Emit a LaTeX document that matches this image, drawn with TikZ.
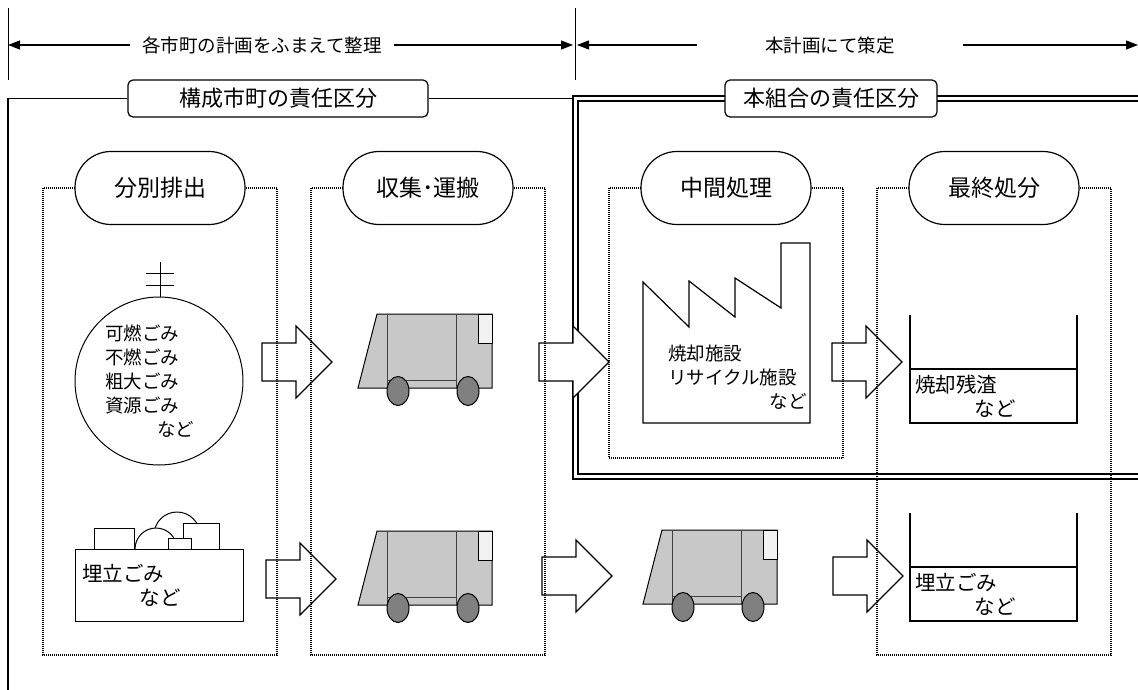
\documentclass[tikz,border=0pt]{standalone}
\usepackage{fontspec}
\setmainfont{Noto Sans CJK JP}
\usetikzlibrary{arrows.meta}

\definecolor{truckbody}{RGB}{200,200,200}
\definecolor{truckwin}{RGB}{242,242,242}
\definecolor{cargo}{RGB}{64,64,64}
\definecolor{wheel}{RGB}{128,128,128}

\tikzset{
  frame/.style={line width=1.2pt},
  colbox/.style={dash pattern=on 1pt off 1pt, line width=1.1pt},
  title/.style={draw, fill=white, rounded corners=5pt, line width=1.2pt,
    minimum height=37pt, inner sep=0pt, font=\fontsize{22}{26}\selectfont},
  pill/.style={draw, fill=white, rounded corners=36pt, line width=1.2pt,
    minimum width=170pt, minimum height=73pt, font=\fontsize{23}{26}\selectfont},
  small/.style={inner sep=0pt, align=left, font=\fontsize{18.5}{24}\selectfont},
  mid/.style={inner sep=0pt, align=left, font=\fontsize{20.5}{24}\selectfont},
  dim/.style={line width=1.2pt, -{Triangle[length=12pt,width=9pt]}},
  fatarrow/.pic={
    \draw[fill=white, line width=1.2pt] (0,-19) -- (34,-19) -- (34,-36) -- (70,0)
      -- (34,36) -- (34,19) -- (0,19) -- cycle;
  },
  truck/.pic={
    \draw[fill=truckbody, line width=1pt] (0,0) -- (19,-74) -- (134,-74) -- (134,0) -- cycle;
    \draw[fill=truckwin, line width=1pt] (120,-74) rectangle (134,-45);
    \draw[draw=cargo, line width=1pt] (29,-74) -- (29,0) (98,-74) -- (98,0) (29,-8) -- (98,-8);
    \draw[fill=wheel, line width=1pt] (40,3) ellipse [x radius=11pt, y radius=14.5pt]
      (110,3) ellipse [x radius=11pt, y radius=14.5pt];
  }
}

\begin{document}
\begin{tikzpicture}[x=1pt, y=-1pt]
\useasboundingbox (0,0) rectangle (1138,690);

% span of each plan
\draw[line width=1pt] (8,8) -- (8,80);
\draw[line width=1pt] (575,8) -- (575,80);
\coordinate (tickL) at (8,45);
\coordinate (tickMl) at (573,45);
\coordinate (tickMr) at (577,45);
\coordinate (tickR) at (1138,45);
\node[inner ysep=0pt, inner xsep=12pt, font=\fontsize{18.5}{22}\selectfont] (cityplan) at (262,45) {各市町の計画をふまえて整理};
\node[inner ysep=0pt, inner xsep=68pt, font=\fontsize{18.5}{22}\selectfont] (ourplan) at (830,45) {本計画にて策定};
\draw[dim] (cityplan.west) -- (tickL);
\draw[dim] (cityplan.east) -- (tickMl);
\draw[dim] (ourplan.west) -- (tickMr);
\draw[dim] (ourplan.east) -- (tickR);

% responsibility frames
\draw[draw=black, double, double distance=3.5pt, line width=1.4pt]
  (1140,98.5) -- (575.5,98.5) -- (575.5,476.5) -- (1140,476.5);
\node[title, minimum width=300pt] (cityduty) at (278,98.5) {構成市町の責任区分};
\node[title, minimum width=212pt] (unionduty) at (831,98.5) {本組合の責任区分};
\draw[frame] (8,692) -- (8,98.5) -- (cityduty.west);
\draw[frame] (cityduty.east) -- (573,98.5);

% flow arrows
\pic at (262,362) {fatarrow};
\pic at (539,362) {fatarrow};
\pic at (832,362) {fatarrow};
\pic at (266,579) {fatarrow};
\pic at (542,576) {fatarrow};
\pic at (833,576) {fatarrow};

% columns
\draw[colbox] (43,188) rectangle (277,655);
\draw[colbox] (311,188) rectangle (545,655);
\draw[colbox] (609,188) rectangle (843,458);
\draw[colbox] (877,188) rectangle (1111,655);
\node[pill] (sort) at (160,188) {分別排出};
\node[pill] (collect) at (428,188) {収集･運搬};
\node[pill] (treat) at (726,188) {中間処理};
\node[pill] (final) at (994,188) {最終処分};

% garbage bag
\draw[line width=1pt] (160,262) -- (160,297);
\draw[line width=1pt] (146,273) -- (174,273) (146,285) -- (174,285);
\draw[line width=1pt, fill=white] (159,381) circle [radius=84pt];
\node[small, anchor=west] (bagtxt) at (105,381) {可燃ごみ\\不燃ごみ\\粗大ごみ\\資源ごみ\\\hspace*{2.8em}など};

% landfill waste pile
\draw[line width=1pt, fill=white] (177,535) circle [radius=23pt];
\draw[line width=1pt, fill=white] (156,549) circle [radius=21pt];
\draw[line width=1pt, fill=white] (183,523) rectangle (219,549);
\draw[line width=1pt, fill=white] (168,538) rectangle (191,549);
\draw[line width=1pt, fill=white] (94,528) rectangle (134,549);
\draw[line width=1pt, fill=white] (75,549) rectangle (243,621);
\node[mid, anchor=west] (piletxt) at (82,585) {埋立ごみ\\\hspace*{2.8em}など};

% trucks
\pic at (358,388) {truck};
\pic at (358,605) {truck};
\pic at (643,604) {truck};

% plant
\draw[line width=1.2pt] (643,282) -- (689,327) -- (689,281) -- (735,317) -- (735,278)
  -- (781,308) -- (781,243) -- (810,243) -- (810,423) -- (643,423) -- cycle;
\node[small, anchor=west] (planttxt) at (668,377.5) {焼却施設\\リサイクル施設\\\hspace*{5.5em}など};

% disposal pits
\draw[line width=1.2pt] (910,315) -- (910,423) -- (1077,423) -- (1077,315);
\draw[line width=1.2pt] (910,369) -- (1077,369);
\node[mid, anchor=west] (ashtxt) at (915,396.5) {焼却残渣\\\hspace*{2.9em}など};
\draw[line width=1.2pt] (910,513) -- (910,621) -- (1077,621) -- (1077,513);
\draw[line width=1.2pt] (910,567) -- (1077,567);
\node[mid, anchor=west] (filltxt) at (915,594.5) {埋立ごみ\\\hspace*{2.9em}など};

\end{tikzpicture}
\end{document}
